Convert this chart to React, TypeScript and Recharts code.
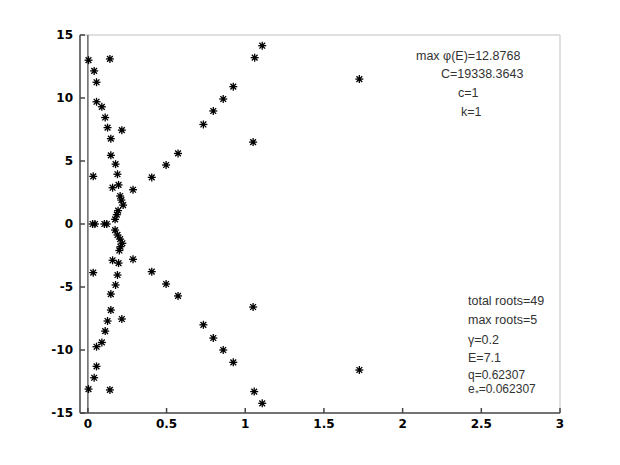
import { ScatterChart, Scatter, XAxis, YAxis, ReferenceLine, Customized } from 'recharts'

const rootsRe = [
  0.004, 0.14, 0.04, 0.055, 0.055, 0.089, 0.11, 0.125, 0.216, 0.146, 0.146, 0.176,
  0.188, 0.034, 0.195, 0.157, 0.287, 0.205, 0.213, 0.224, 0.192, 0.184, 0.173,
  0.406, 0.497, 0.573, 0.734, 0.797, 0.86, 0.924, 1.06, 1.108, 1.05, 1.725,
  0.03, 0.045, 0.105, 0.12,
  0.004, 0.14, 0.04, 0.055, 0.055, 0.089, 0.11, 0.125, 0.216, 0.146, 0.146, 0.176,
  0.188, 0.034, 0.195, 0.157, 0.287, 0.2, 0.207, 0.219, 0.205, 0.188, 0.173,
  0.406, 0.497, 0.573, 0.734, 0.797, 0.86, 0.924, 1.057, 1.108, 1.05, 1.725,
]
const rootsIm = [
  13.0, 13.1, 12.15, 11.25, 9.7, 9.3, 8.45, 7.65, 7.45, 6.77, 5.45, 4.75,
  3.95, 3.78, 3.1, 2.88, 2.72, 2.22, 1.9, 1.5, 1.06, 0.74, 0.37,
  3.7, 4.68, 5.6, 7.9, 8.97, 9.92, 10.9, 13.2, 14.15, 6.5, 11.5,
  0, 0, 0, 0,
  -13.1, -13.17, -12.2, -11.3, -9.74, -9.4, -8.5, -7.7, -7.54, -6.83, -5.56, -4.84,
  -4.05, -3.86, -3.1, -2.88, -2.8, -2.1, -1.8, -1.53, -1.2, -0.87, -0.48,
  -3.78, -4.76, -5.71, -8.0, -9.05, -10.0, -10.98, -13.3, -14.23, -6.59, -11.59,
]

const xTicks = [0, 0.5, 1, 1.5, 2, 2.5, 3]
const yTicks = [-15, -10, -5, 0, 5, 10, 15]

const topNotes = ['max φ(E)=12.8768', 'C=19338.3643', 'c=1', 'k=1']
const bottomNotes = ['total roots=49', 'max roots=5', 'γ=0.2', 'E=7.1', 'q=0.62307', 'e₊=0.062307']

const data = rootsRe.map((re, i) => ({ re, im: rootsIm[i] }))

const Star = (props: any) => {
  const { cx, cy } = props
  const r = 4
  const d = r * 0.72
  return (
    <g stroke="#000" strokeWidth={1.3}>
      <line x1={cx - r} y1={cy} x2={cx + r} y2={cy} />
      <line x1={cx} y1={cy - r} x2={cx} y2={cy + r} />
      <line x1={cx - d} y1={cy - d} x2={cx + d} y2={cy + d} />
      <line x1={cx - d} y1={cy + d} x2={cx + d} y2={cy - d} />
      <circle cx={cx} cy={cy} r={1.8} fill="#000" stroke="none" />
    </g>
  )
}

const Notes = () => {
  const txt = { fontFamily: 'Liberation Sans, Arial, sans-serif', fontSize: 12.5, fill: '#333' }
  const topX = [416, 441, 458, 461]
  const topY = [60, 78, 97, 116]
  const botY = [305, 324, 344, 362, 378.5, 393]
  return (
    <g>
      {topNotes.map((t, i) => (
        <text key={t} x={topX[i]} y={topY[i]} {...txt}>{t}</text>
      ))}
      {bottomNotes.map((t, i) => (
        <text key={t} x={468} y={botY[i]} {...txt} fontSize={i > 3 ? 12 : 12.5}>{t}</text>
      ))}
    </g>
  )
}

export default function App() {
  const tick = { fontSize: 12, fontWeight: 700, fill: '#000', fontFamily: 'DejaVu Sans, Verdana, sans-serif' }
  return (
    <div style={{ position: 'absolute', left: 0, top: 0, width: 620, height: 465, background: '#fff' }}>
      <ScatterChart width={620} height={465} margin={{ top: 35, right: 60, left: 0, bottom: 0 }}>
        <XAxis
          type="number"
          dataKey="re"
          domain={[-0.05, 3]}
          ticks={xTicks}
          allowDataOverflow
          height={52}
          tick={tick}
          tickSize={-5}
          tickMargin={11}
          axisLine={{ stroke: '#444', strokeWidth: 1.5 }}
          tickLine={{ stroke: '#444', strokeWidth: 1.5 }}
        />
        <YAxis
          type="number"
          dataKey="im"
          domain={[-15, 15]}
          ticks={yTicks}
          allowDataOverflow
          width={80}
          tick={tick}
          tickSize={-5}
          tickMargin={12}
          axisLine={{ stroke: '#444', strokeWidth: 1.5 }}
          tickLine={{ stroke: '#444', strokeWidth: 1.5 }}
        />
        <ReferenceLine y={15} stroke="#d6d6d6" strokeWidth={1.5} />
        <ReferenceLine x={3} stroke="#d6d6d6" strokeWidth={1.5} />
        <ReferenceLine x={0} stroke="#666" strokeWidth={1.5} />
        <Scatter data={data} shape={Star} isAnimationActive={false} />
        <Customized component={Notes} />
      </ScatterChart>
    </div>
  )
}
